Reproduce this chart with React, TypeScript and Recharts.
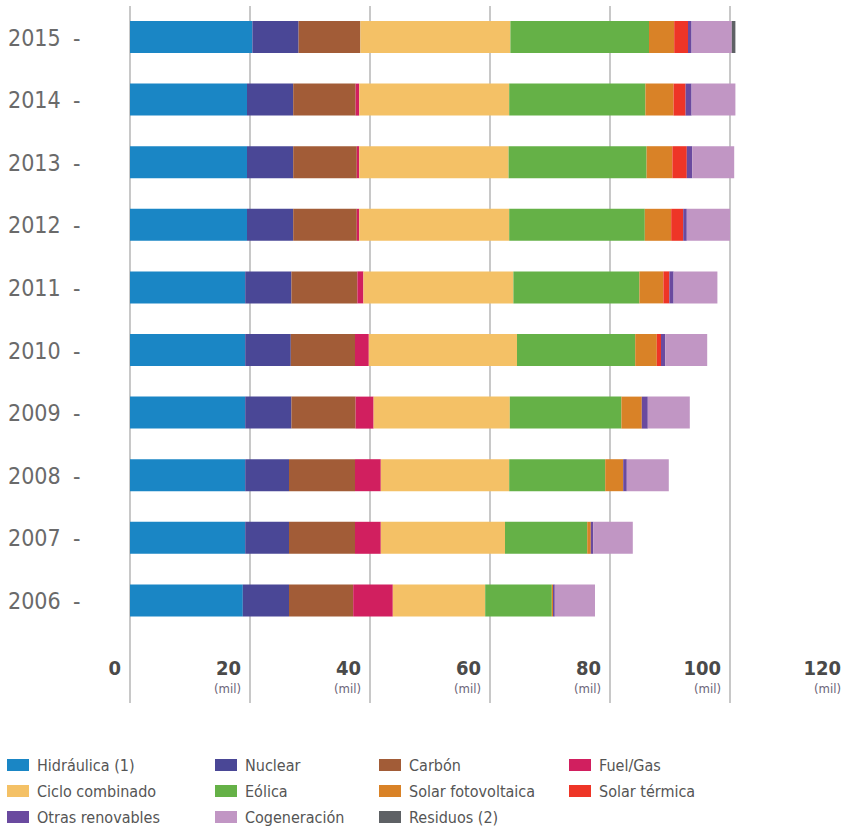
import { BarChart, Bar, XAxis, YAxis, CartesianGrid } from "recharts";

const years = ["2006", "2007", "2008", "2009", "2010", "2011", "2012", "2013", "2014", "2015"];

const hidraulica = [18.8, 19.2, 19.2, 19.2, 19.2, 19.2, 19.5, 19.5, 19.5, 20.4];
const nuclear = [7.7, 7.3, 7.3, 7.7, 7.6, 7.7, 7.7, 7.7, 7.7, 7.7];
const carbon = [10.7, 11.0, 11.0, 10.7, 10.7, 11.0, 10.6, 10.6, 10.4, 10.3];
const fuelGas = [6.6, 4.3, 4.3, 3.0, 2.3, 1.0, 0.4, 0.4, 0.6, 0];
const cicloCombinado = [15.4, 20.7, 21.4, 22.7, 24.7, 25.0, 25.0, 24.9, 25.0, 25.0];
const eolica = [11.1, 13.7, 16.0, 18.6, 19.7, 21.0, 22.6, 23.0, 22.7, 23.1];
const solarFV = [0.2, 0.6, 3.0, 3.4, 3.6, 4.0, 4.4, 4.3, 4.7, 4.2];
const solarTermica = [0, 0, 0, 0, 0.7, 1.0, 2.0, 2.4, 2.0, 2.3];
const otrasRenovables = [0.3, 0.4, 0.6, 1.0, 0.7, 0.7, 0.6, 0.9, 1.0, 0.6];
const cogeneracion = [6.7, 6.6, 7.0, 7.0, 7.0, 7.3, 7.2, 7.0, 7.3, 6.7];
const residuos = [0, 0, 0, 0, 0, 0, 0, 0, 0, 0.6];

const xTicks = [0, 20, 40, 60, 80, 100, 120];

const series = [
  { key: "hidraulica", name: "Hidráulica (1)", values: hidraulica, color: "#1a86c5" },
  { key: "nuclear", name: "Nuclear", values: nuclear, color: "#4a4796" },
  { key: "carbon", name: "Carbón", values: carbon, color: "#a25c37" },
  { key: "fuelGas", name: "Fuel/Gas", values: fuelGas, color: "#d11f5f" },
  { key: "ciclo", name: "Ciclo combinado", values: cicloCombinado, color: "#f4c166" },
  { key: "eolica", name: "Eólica", values: eolica, color: "#65b147" },
  { key: "solarFV", name: "Solar fotovoltaica", values: solarFV, color: "#d98227" },
  { key: "solarTermica", name: "Solar térmica", values: solarTermica, color: "#ee3527" },
  { key: "otras", name: "Otras renovables", values: otrasRenovables, color: "#6a4a9f" },
  { key: "cogeneracion", name: "Cogeneración", values: cogeneracion, color: "#c196c4" },
  { key: "residuos", name: "Residuos (2)", values: residuos, color: "#5e6165" },
];

const data = years.map((year, i) => {
  const row: Record<string, string | number> = { year };
  series.forEach((s) => {
    row[s.key] = s.values[i];
  });
  return row;
});

const FONT = "'DejaVu Sans Condensed', 'DejaVu Sans', sans-serif";
const GRID = "#c8c8c8";

const YearTick = (props: any) => {
  const { x, y, payload } = props;
  return (
    <g>
      <text x={x - 114} y={y} dy="0.36em" fontSize={23} fill="#6a6a6a" fontFamily={FONT}>
        {payload.value}
      </text>
      <text x={x - 49} y={y} dy="0.36em" fontSize={23} fill="#6a6a6a" fontFamily={FONT}>
        -
      </text>
    </g>
  );
};

const ValueTick = (props: any) => {
  const { x, y, payload } = props;
  const base = y - 8;
  return (
    <g>
      <line x1={x} x2={x} y1={base} y2={base + 71} stroke={GRID} strokeWidth={2} />
      <text x={x - 9} y={base + 43} textAnchor="end" fontSize={20} fontWeight="bold" fill="#4a4a4a" fontFamily={FONT}>
        {payload.value}
      </text>
      {payload.value !== 0 && (
        <text x={x - 9} y={base + 61} textAnchor="end" fontSize={13} fill="#6b6478" fontFamily={FONT}>
          (mil)
        </text>
      )}
    </g>
  );
};

const legendCols = [7, 215, 379, 569];

const App = () => (
  <div style={{ position: "absolute", left: 0, top: 0, width: 848, height: 827, overflow: "hidden", background: "#fff" }}>
    <BarChart
      width={850}
      height={740}
      data={data}
      layout="vertical"
      margin={{ top: 6, right: 0, left: 0, bottom: 0 }}
      barSize={32}
    >
      <CartesianGrid horizontal={false} stroke={GRID} strokeWidth={2} strokeDasharray="" />
      <XAxis
        type="number"
        domain={[0, 120]}
        ticks={xTicks}
        axisLine={false}
        tickLine={false}
        height={108}
        tick={<ValueTick />}
        interval={0}
      />
      <YAxis
        type="category"
        dataKey="year"
        reversed
        width={130}
        axisLine={false}
        tickLine={false}
        tick={<YearTick />}
        interval={0}
      />
      {series.map((s) => (
        <Bar key={s.key} dataKey={s.key} name={s.name} stackId="a" fill={s.color} isAnimationActive={false} />
      ))}
    </BarChart>
    <div
      style={{
        position: "absolute",
        left: 0,
        top: 753,
        width: 848,
        fontFamily: FONT,
        fontSize: 16,
        color: "#555",
      }}
    >
      {series.map((s, i) => (
        <div
          key={s.key}
          style={{
            position: "absolute",
            left: legendCols[i % 4],
            top: Math.floor(i / 4) * 26,
            height: 24,
            display: "flex",
            alignItems: "center",
            whiteSpace: "nowrap",
          }}
        >
          <span style={{ display: "inline-block", width: 22, height: 12, background: s.color, marginRight: 8 }} />
          {s.name}
        </div>
      ))}
    </div>
  </div>
);

export default App;
